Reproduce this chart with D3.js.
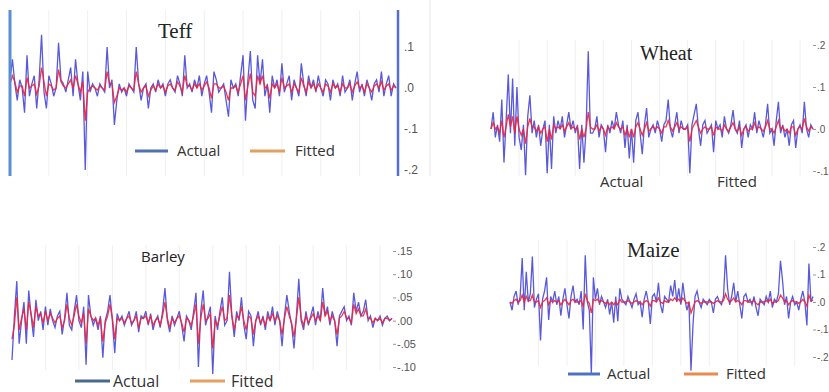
<!DOCTYPE html>
<html>
<head>
<meta charset="utf-8">
<script src="https://cdn.jsdelivr.net/npm/d3@7"></script>
<style>
  body { margin: 0; background: #fff; }
  svg { display: block; }
</style>
</head>
<body>
<svg id="chart" width="829" height="392"></svg>
<script>
// all series values are in hundredths (0.01) of the residual scale

const teffActual = [2,7,1,-3,2,0,-6,8,-2,1,3,-5,2,13,-1,-5,3,1,-2,0,11,2,1,-1,2,5,-2,7,1,-3,4,-20,4,-1,1,0,-2,1,0,-1,
  10,0,2,-9,-3,1,-1,0,-2,1,0,-1,10,1,-3,0,1,-5,0,1,-1,2,0,1,-2,1,2,0,-1,3,1,-2,8,0,1,-1,2,0,3,-2,
  1,3,-1,-6,4,2,-1,0,1,-3,-7,2,0,1,-2,3,8,-8,2,9,-3,-5,8,1,7,-2,1,-6,3,0,2,-2,6,-1,1,3,-3,2,0,-2,
  6,1,-2,3,0,2,-1,3,0,-2,2,1,-3,2,0,1,-2,3,-1,0,2,-3,1,4,-1,1,-2,2,0,-3,1,2,-1,4,-2,1,3,-2,1,0];
const teffFitted = [1,3,1.5,-1,0.5,0.5,-2,2.5,0,0.5,1,-1.5,0.5,5,1.5,-2,1,0.5,-0.5,0,4.5,1.5,0.5,0,1,2,0,3,1,-1,1.5,-8,-1,0,0.5,0,-0.5,0.5,0,-0.5,
  4,1,1,-3.5,-2,0,-0.5,0,-1,0.5,0,-0.5,4,1,-1,0,0.5,-2,-0.5,0.5,-0.5,1,0,0.5,-1,0.5,1,0,-0.5,1.5,0.5,-1,3,0.5,0.5,-0.5,1,0,1,-0.5,
  0.5,1.5,0,-2.5,1,1,0,0,0.5,-1,-3,0,0,0.5,-1,1,3,-3,0.5,3.5,-1,-2,3,1,3,0,0.5,-2.5,1,0,1,-1,2.5,0,0.5,1,-1,1,0,-1,
  2.5,0.5,-1,1.5,0,1,-0.5,1,0,-1,1,0.5,-1,1,0,0.5,-1,1,0,0,1,-1,0.5,1.5,0,0.5,-1,1,0,-1,0.5,1,0,1.5,-0.5,0.5,1,-0.5,0.5,0];
const teffTicks = [20, 10, 0, -10, -20];
const teffTickLabels = [".2", ".1", ".0", "-.1", "-.2"];

const wheatActual = [0,4,-2,1,-3,7,-8,2,13,-1,12,-4,10,-2,-5,1,-11,3,8,-1,2,-2,1,-4,0,2,-10.5,1,-9.5,3,-1,2,0,3,-2,1,4,0,2,-1,
  1,-9.5,1,-8,0,18.5,-1,-1,0,3,-2,1,0,-5.5,1,-1,2,0,4,1,-1,2,-4.5,1,-7,0,-8,2,4,-1,-6,1,5,-2,0,1,-1,2,0,-3,
  1,2,7,0,-2,1,4,-1,2,0,0,1,-10.5,1,3.5,6,0,-4,1,2,-1,0,1,-5.5,2,0,1,-2,3,0,-1,1,4.5,0,-1,2,-4.5,0,1,-2,
  1,0,4,-1,2,0,-2,1,6,-1,0,-4,2,6.5,-1,1,-2,0,-4,1,2,-4.5,0,1,-1,6.5,0,-2,1,0];
const wheatFitted = [0,1.5,0,0.5,-1,2,-2,0.5,3.5,0.5,3,-1,3,0,-1.5,0,-3.5,0.5,2.5,0.5,0.5,-0.5,0.5,-1,0,0.5,-3,0,-2.5,1,0,0.5,0,1,-0.5,0.5,1.5,0,0.5,0,
  0.5,-2.5,0,-2,0,4,0.5,0,0,1,-0.5,0.5,0,-1.5,0.5,0,0.5,0,1.5,0.5,0,0.5,-1.5,0,-2,0,-2,0.5,1.5,0,-1.5,0,1.5,-0.5,0,0.5,0,0.5,0,-1,
  0.5,0.5,2,0.5,-0.5,0.5,1.5,0,0.5,0,0,0.5,-3,0,1,2,0.5,-1,0,0.5,0,0,0.5,-1.5,0.5,0,0,-0.5,1,0,-0.5,0.5,1.5,0,-0.5,0.5,-1.5,0,0.5,-0.5,
  0,0,1.5,0,0.5,0,-0.5,0.5,2,0,0,-1,0.5,2,0,0.5,-0.5,0,-1,0.5,0.5,-1.5,0,0.5,0,2.5,0.5,-0.5,0.5,0];
const wheatTicks = [20, 10, 0, -10];
const wheatTickLabels = [".2", ".1", ".0", "-.1"];

const barleyActual = [-8.5,1,8.5,-5,0,4,-5,6.5,1,-3.5,4.5,0,2,-2,3,-1,2.5,0,-1.5,1,2,-3,0.5,6,-1,-2,2,5.5,0,-1.5,3,-9.5,5.5,1,-1,0.5,-2,1,-8,0,
  2,5.5,0,-7,1.5,0,1,-1,0.5,2,-1,0,2,-2.5,1,0.5,2,-1,1.5,-2,0,1,-1.5,2,7,0,-2.5,1,-1,0.5,2,-1,-4.5,1,0,-2,2,6,-10,2,
  6.5,-1,1,3,-11.5,1,-2,2,5,-1,0,10.5,1,-3.5,2,0,5,-1,-4,2,1,-5.5,0,2,-1,1,-2,2,0,3,-1,2,0,-5.5,1,5.5,2,-1,-6,1,
  9,0,-2,2,-1,1,3,-1,2,0,7,1,3,-1,2,0,-5.5,1,2,3,0,1,-1,6,2,4,1,2,4.5,0,1,-1.5,0.5,0,1,-1,0.5,1,0,0.5];
const barleyFitted = [-4,-1,5,-2,0.5,2.5,-2,4,1.5,-1.5,3,1,1.5,-0.5,2,0,1.5,0.5,-0.5,0.5,1,-1.5,0,3.5,0.5,-1,1,3.5,1,-0.5,1.5,-5,2.5,1,0,0.5,-1,0.5,-4.5,-0.5,
  1,3.5,0.5,-4,0.5,0,0.5,-0.5,0.5,1,-0.5,0,1,-1.5,0.5,0.5,1,-0.5,1,-1,0,0.5,-1,1,4,0.5,-1.5,0.5,-0.5,0.5,1,-0.5,-2.5,0.5,0,-1,1,3.5,-5,0.5,
  3.5,0,0.5,1.5,-6,0,-1,1,3,0,0.5,5.5,1,-2,1,0.5,3,0,-2,1,0.5,-3,0,1,-0.5,0.5,-1,1,0,1.5,0,1,0,-3,0.5,3,1,-0.5,-3.5,0.5,
  5,0.5,-1,1,-0.5,0.5,1.5,0,1,0,4,1,2,0,1,0,-3,0.5,1,2,0.5,0.5,-0.5,3.5,1.5,2.5,1,1,2.5,0.5,0.5,-0.5,0.5,0,0.5,-0.5,0.5,0.5,0,0.5];
const barleyTicks = [15, 10, 5, 0, -5, -10];
const barleyTickLabels = [".15", ".10", ".05", ".00", "-.05", "-.10"];

const maizeActual = [0,-3,2,4,-1,2,16,-3,11,0,3,16.5,-2,1,3,-14,1,4,9,-6.5,2,0,4,-1,2,-5,1,5,-1,-6,2,6,0,1,-1,4,-10,17,0,-3,
  -26,9,1,5,-1,2,0,-2,1,-4.5,0,-7.5,2,-7,5,1,0,-1,2,0,-2,1,3,-1,0,-5.5,1,4,0,-8,2,3,0,7,-1,-4,2,1,0,6,
  2,8,0,5,-1,7,1,-3,0,-25,-8,2,4,0,-2,1,0,-1,1,0,-4,1,2,0,-1,2,17,5,-1,2,7,0,4,-1,-6,2,3,0,1,-1,
  2,-2,-5,1,0,-1,2,0,4,-2,1,0,3,15,8,-1,2,-6,0,2,-1,0,-3,1,4,0,-8.5,14,0,2];
const maizeFitted = [0,-0.5,0.5,1,0,0.5,2.5,0,2,0.5,0.5,2.5,0,0,0.5,-2,0,0.5,1.5,-1,0.5,0,0.5,0,0.5,-1,0,1,0,-1,0.5,1,0,0,0,0.5,-1.5,3,0.5,-0.5,
  -4,1,0.5,1,0,0.5,0,-0.5,0,-1,0,-1,0,-1,1,0,0,0,0.5,0,-0.5,0,0.5,0,0,-1,0,0.5,0,-1.5,0.5,0.5,0,1.5,0,-0.5,0.5,0,0,1,
  0.5,1.5,0.5,1,0,1.5,0.5,-0.5,0,-4,-2,0,0.5,0,-0.5,0,0,0,0,0,-0.5,0,0.5,0,0,0.5,3,1,0,0.5,1.5,0,0.5,0,-1,0.5,0.5,0,0,0,
  0.5,-0.5,-1,0,0,0,0.5,0,1,-0.5,0,0,0.5,2.5,1.5,0,0.5,-1,0,0.5,0,0,-0.5,0,1,0,-1.5,2.5,0.5,0.5];
const maizeTicks = [20, 10, 0, -10, -20];
const maizeTickLabels = [".2", ".1", ".0", "-.1", "-.2"];

const seriesNames = ["Actual", "Fitted"];

const svg = d3.select("#chart");

const panels = [
  { title: "Teff", actual: teffActual, fitted: teffFitted, ticks: teffTicks, labels: teffTickLabels,
    xr: [10, 396], dom: [-20, 20], yr: [170, 6], axisX: 400, dash: false, tickFont: 12, gridStep: 16, gridY: [10, 176],
    clipTop: 10, titleX: 158, titleY: 38, titleFont: "Liberation Serif", titleSize: 21,
    legY: 151, legSize: 15, leg: [[135, 168, 177], [250, 285, 295]], legColors: ["#4f72b0", "#e0a060"] },
  { title: "Wheat", actual: wheatActual, fitted: wheatFitted, ticks: wheatTicks, labels: wheatTickLabels,
    xr: [491, 813], dom: [-10, 20], yr: [171, 45], axisX: 813, dash: true, tickFont: 10, gridStep: 13, gridY: [40, 176],
    titleX: 640, titleY: 60, titleFont: "Liberation Serif", titleSize: 20,
    legY: 182, legSize: 15, leg: [[600, 600, 600], [717, 717, 717]], legColors: ["none", "none"] },
  { title: "Barley", actual: barleyActual, fitted: barleyFitted, ticks: barleyTicks, labels: barleyTickLabels,
    xr: [12, 392], dom: [-10, 15], yr: [367, 251], axisX: 393, dash: true, tickFont: 11, gridStep: 14, gridY: [245, 370],
    titleX: 141, titleY: 262, titleFont: "Open Sans", titleSize: 15,
    legY: 381, legSize: 16, leg: [[75, 110, 113], [190, 225, 231]], legColors: ["#4a6a8c", "#e8a060"] },
  { title: "Maize", actual: maizeActual, fitted: maizeFitted, ticks: maizeTicks, labels: maizeTickLabels,
    xr: [510, 813], dom: [-20, 20], yr: [357, 247], axisX: 813, dash: true, tickFont: 10, gridStep: 14, gridY: [240, 366],
    titleX: 627, titleY: 257, titleFont: "Liberation Serif", titleSize: 21,
    legY: 374, legSize: 15, leg: [[568, 600, 607], [684, 718, 726]], legColors: ["#4f72c0", "#e88a50"] }
];

svg.append("defs").append("clipPath").attr("id", "clipTop")
  .append("rect").attr("x", 0).attr("y", 10).attr("width", 460).attr("height", 200);

function drawPanel(p) {
  const g = svg.append("g");
  if (p.clipTop) g.attr("clip-path", "url(#clipTop)");

  const n = p.actual.length;
  const x = d3.scaleLinear().domain([0, n - 1]).range(p.xr);
  const y = d3.scaleLinear().domain(p.dom).range(p.yr);

  // faint vertical grid
  g.append("g").selectAll("line")
    .data(d3.range(p.gridStep, n, p.gridStep))
    .join("line")
    .attr("x1", d => x(d)).attr("x2", d => x(d))
    .attr("y1", p.gridY[0]).attr("y2", p.gridY[1])
    .attr("stroke", "#f0f0f0").attr("stroke-width", 1);

  // right hand value axis
  const axis = d3.axisRight(y)
    .tickValues(p.ticks)
    .tickFormat((d, i) => p.labels[i])
    .tickSize(p.dash ? 3 : 0)
    .tickSizeOuter(0)
    .tickPadding(p.dash ? 1 : 4);
  const ag = g.append("g").attr("transform", `translate(${p.axisX},0)`).call(axis);
  ag.select(".domain").remove();
  ag.selectAll(".tick line").attr("stroke", "#999");
  ag.selectAll(".tick text")
    .attr("fill", "#555")
    .style("font-family", "Liberation Sans, Arial, sans-serif")
    .style("font-size", p.tickFont + "px");

  const line = d3.line().x((d, i) => x(i)).y(d => y(d));

  g.append("path").datum(p.actual)
    .attr("d", line)
    .attr("fill", "none")
    .attr("stroke", "#3c3cd2")
    .attr("stroke-opacity", 0.85)
    .attr("stroke-width", 1.3);

  g.append("path").datum(p.fitted)
    .attr("d", line)
    .attr("fill", "none")
    .attr("stroke", "#f2203c")
    .attr("stroke-opacity", 0.9)
    .attr("stroke-width", 1.3);

  g.append("text")
    .attr("x", p.titleX).attr("y", p.titleY)
    .style("font-family", p.titleFont)
    .style("font-size", p.titleSize + "px")
    .attr("fill", "#222")
    .text(p.title);

  // legend
  seriesNames.forEach((name, k) => {
    const [a, b, tx] = p.leg[k];
    if (p.legColors[k] !== "none") {
      g.append("line")
        .attr("x1", a).attr("x2", b).attr("y1", p.legY).attr("y2", p.legY)
        .attr("stroke", p.legColors[k]).attr("stroke-width", 3);
    }
    g.append("text")
      .attr("x", tx).attr("y", p.legY)
      .attr("dy", "0.36em")
      .style("font-family", "Open Sans, sans-serif")
      .style("font-size", p.legSize + "px")
      .attr("fill", "#333")
      .text(name);
  });
}

panels.forEach(drawPanel);

// frame lines of the Teff panel
const frame = svg.append("g");
frame.append("line").attr("x1", 10).attr("x2", 10).attr("y1", 10).attr("y2", 176)
  .attr("stroke", "#5b8fd4").attr("stroke-width", 3);
frame.append("line").attr("x1", 398).attr("x2", 398).attr("y1", 10).attr("y2", 176)
  .attr("stroke", "#5570c8").attr("stroke-width", 2.5);
frame.append("line").attr("x1", 430).attr("x2", 430).attr("y1", 0).attr("y2", 176)
  .attr("stroke", "#e4e4e4").attr("stroke-width", 1);
</script>
</body>
</html>
